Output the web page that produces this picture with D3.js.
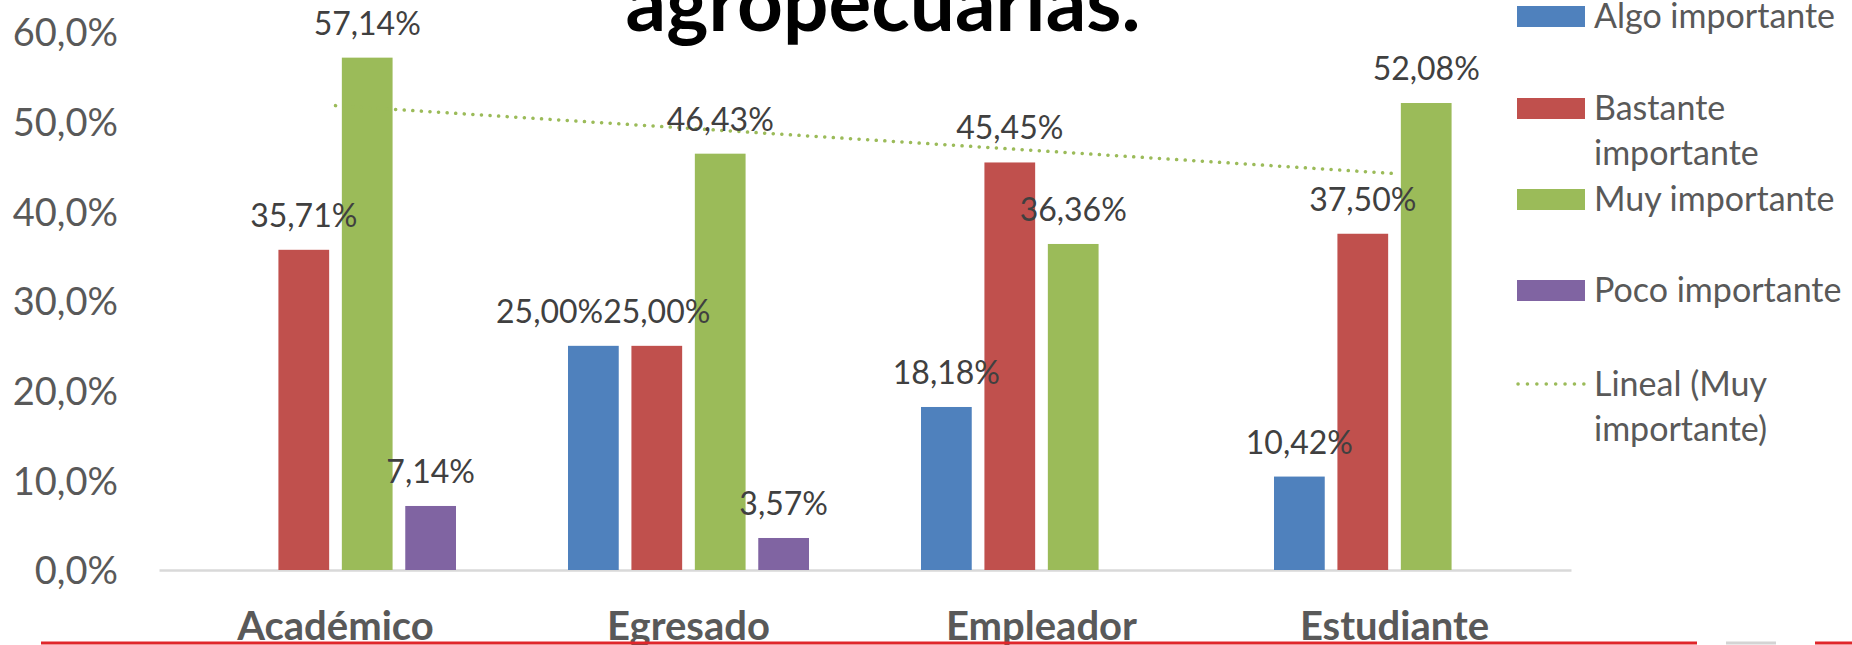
<!DOCTYPE html>
<html>
<head>
<meta charset="utf-8">
<script src="https://cdn.jsdelivr.net/npm/d3@7"></script>
<style>
  html, body { margin: 0; padding: 0; background: #ffffff; }
  svg { display: block; }
</style>
</head>
<body>
<svg id="chart" width="1852" height="645"></svg>
<script>
// ---------- DATA ----------
const categories = ["Académico", "Egresado", "Empleador", "Estudiante"];
const seriesNames = ["Algo importante", "Bastante importante", "Muy importante", "Poco importante"];
const algoImportante     = [null, 0.2500, 0.1818, 0.1042];
const bastanteImportante = [0.3571, 0.2500, 0.4545, 0.3750];
const muyImportante      = [0.5714, 0.4643, 0.3636, 0.5208];
const pocoImportante     = [0.0714, 0.0357, null, null];
const yTicks = [0, 0.1, 0.2, 0.3, 0.4, 0.5, 0.6];
const titleText = "agropecuarias.";
const trendLabel = ["Lineal (Muy", "importante)"];

const seriesValues = [algoImportante, bastanteImportante, muyImportante, pocoImportante];
const colors = ["#4f81bd", "#c0504d", "#9bbb59", "#8064a2"];

// ---------- LAYOUT ----------
const plot = { left: 159, right: 1571, top: 32, bottom: 570 };
const svg = d3.select("#chart");
const FONT = "Lato, 'Open Sans', sans-serif";

const x0 = d3.scaleBand().domain(categories).range([plot.left, plot.right]).paddingInner(0).paddingOuter(0);
const groupW = 241;
const x1 = d3.scaleBand().domain(seriesNames)
  .range([(x0.bandwidth() - groupW) / 2, (x0.bandwidth() + groupW) / 2])
  .paddingInner(0.2).paddingOuter(0);
const y = d3.scaleLinear().domain([0, 0.6]).range([plot.bottom, plot.top]);

const fmtPct = v => (v * 100).toFixed(2).replace(".", ",") + "%";
const fmtTick = v => (v * 100).toFixed(1).replace(".", ",") + "%";

// title (partially clipped at top)
svg.append("text")
  .attr("x", 883).attr("y", 31)
  .attr("text-anchor", "middle")
  .attr("font-family", FONT).attr("font-weight", "bold")
  .attr("font-size", 80).attr("fill", "#000")
  .text(titleText);

// y axis labels (no axis line)
const yAxis = d3.axisLeft(y).tickValues(yTicks).tickFormat(fmtTick).tickSize(0).tickPadding(0);
const gy = svg.append("g").attr("transform", `translate(118,0)`).call(yAxis);
gy.select(".domain").remove();
gy.selectAll("text")
  .attr("font-family", FONT).attr("font-size", 38).attr("fill", "#595959")
  .attr("dy", "0.36em");

// baseline + category labels
const xAxis = d3.axisBottom(x0).tickSize(0).tickPadding(0);
const gx = svg.append("g").attr("transform", `translate(0,${plot.bottom})`).call(xAxis);
gx.select(".domain").attr("stroke", "#d9d9d9").attr("stroke-width", 2.5);
gx.selectAll("text")
  .attr("y", 70).attr("dy", 0)
  .attr("font-family", FONT).attr("font-weight", "bold")
  .attr("font-size", 40).attr("fill", "#595959");

// bars
const barData = [];
categories.forEach((c, ci) => {
  seriesNames.forEach((s, si) => {
    const v = seriesValues[si][ci];
    if (v !== null && v !== undefined) barData.push({ c, s, si, v });
  });
});

svg.append("g").selectAll("rect").data(barData).join("rect")
  .attr("x", d => x0(d.c) + x1(d.s))
  .attr("y", d => y(d.v))
  .attr("width", x1.bandwidth())
  .attr("height", d => y(0) - y(d.v))
  .attr("fill", d => colors[d.si]);

// trend line (linear fit of Muy importante)
const xs = muyImportante.map((_, i) => i + 1);
const mx = d3.mean(xs), my = d3.mean(muyImportante);
const slope = d3.sum(xs.map((xv, i) => (xv - mx) * (muyImportante[i] - my))) / d3.sum(xs.map(xv => (xv - mx) ** 2));
const intercept = my - slope * mx;
const trendPts = [1, categories.length].map(i => ({ cx: x0(categories[i - 1]) + x0.bandwidth() / 2, v: intercept + slope * i }));
svg.append("path")
  .datum(trendPts)
  .attr("d", d3.line().x(d => d.cx).y(d => y(d.v)))
  .attr("fill", "none").attr("stroke", "#9bbb59")
  .attr("stroke-width", 3.5).attr("stroke-linecap", "round")
  .attr("stroke-dasharray", "0.1 8.5");

// data labels
const labels = svg.append("g").selectAll("text").data(barData).join("text")
  .attr("x", d => x0(d.c) + x1(d.s) + x1.bandwidth() / 2)
  .attr("y", d => y(d.v) - 23)
  .attr("text-anchor", "middle")
  .attr("font-family", FONT).attr("font-size", 32).attr("fill", "#404040")
  .text(d => fmtPct(d.v));

// simple collision avoidance: shift a label left if it overlaps the next one at the same height
const nodes = labels.nodes();
for (let i = nodes.length - 2; i >= 0; i--) {
  const a = nodes[i], b = nodes[i + 1];
  const da = d3.select(a).datum(), db = d3.select(b).datum();
  if (da.c !== db.c) continue;
  const ba = a.getBBox(), bb = b.getBBox();
  const vOverlap = ba.y < bb.y + bb.height && bb.y < ba.y + ba.height;
  const hOverlap = ba.x + ba.width - bb.x;
  if (vOverlap && hOverlap > 0) {
    d3.select(a).attr("x", +d3.select(a).attr("x") - hOverlap);
  }
}

// legend
const legendItems = [
  { lines: ["Algo importante"], color: colors[0], type: "rect", cy: 16 },
  { lines: ["Bastante", "importante"], color: colors[1], type: "rect", cy: 108 },
  { lines: ["Muy importante"], color: colors[2], type: "rect", cy: 199 },
  { lines: ["Poco importante"], color: colors[3], type: "rect", cy: 290 },
  { lines: trendLabel, color: colors[2], type: "line", cy: 384 }
];
const lg = svg.append("g");
legendItems.forEach(it => {
  if (it.type === "rect") {
    lg.append("rect").attr("x", 1517).attr("y", it.cy - 10).attr("width", 68).attr("height", 21).attr("fill", it.color);
  } else {
    lg.append("line").attr("x1", 1518).attr("x2", 1584).attr("y1", it.cy).attr("y2", it.cy)
      .attr("stroke", it.color).attr("stroke-width", 3.5).attr("stroke-linecap", "round")
      .attr("stroke-dasharray", "0.1 9.3");
  }
  it.lines.forEach((ln, k) => {
    lg.append("text").attr("x", 1594).attr("y", it.cy + k * 45).attr("dy", "0.36em")
      .attr("font-family", FONT).attr("font-size", 34).attr("fill", "#595959").text(ln);
  });
});

// bottom red rule
svg.append("line").attr("x1", 41).attr("x2", 1697).attr("y1", 643).attr("y2", 643)
  .attr("stroke", "#e0262b").attr("stroke-width", 3);
svg.append("line").attr("x1", 1726).attr("x2", 1776).attr("y1", 643).attr("y2", 643)
  .attr("stroke", "#d4d4d4").attr("stroke-width", 3);
svg.append("line").attr("x1", 1815).attr("x2", 1852).attr("y1", 643).attr("y2", 643)
  .attr("stroke", "#e0262b").attr("stroke-width", 3);
</script>
</body>
</html>
